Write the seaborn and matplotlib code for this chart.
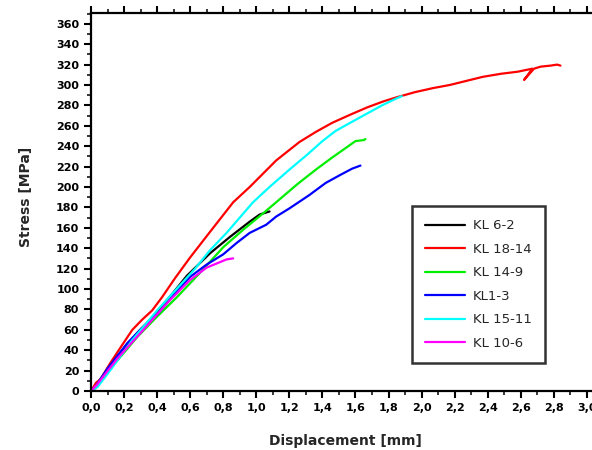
import matplotlib
matplotlib.use("Agg")
import matplotlib.pyplot as plt
from matplotlib.ticker import MultipleLocator, FuncFormatter
import seaborn as sns
import pandas as pd

# Stress–displacement curves of six specimens
kl6_2_x = [0.0, 0.03, 0.10, 0.19, 0.28, 0.375, 0.48, 0.58, 0.72, 0.84, 0.96, 1.02, 1.08]
kl6_2_y = [0, 5, 22, 40, 57, 73, 93, 113, 135, 151, 166, 173, 176]

kl18_14_x = [0.0, 0.03, 0.06, 0.115, 0.18, 0.25, 0.31, 0.37, 0.43, 0.51, 0.60, 0.72, 0.86, 0.96,
             1.12, 1.26, 1.36, 1.46, 1.57, 1.67, 1.77, 1.85, 1.96, 2.07, 2.17, 2.27, 2.37, 2.48,
             2.58, 2.67, 2.62, 2.68, 2.72, 2.78, 2.82, 2.84]
kl18_14_y = [0, 8, 12, 27, 43, 60, 70, 79, 92, 111, 131, 156, 185, 200,
             226, 244, 254, 263, 271, 278, 284, 288, 293, 297, 300, 304, 308, 311,
             313, 316, 305, 316, 318, 319, 320, 319]

kl14_9_x = [0.0, 0.03, 0.055, 0.16, 0.28, 0.40, 0.52, 0.66, 0.80, 0.92, 1.04, 1.12, 1.25,
            1.36, 1.46, 1.53, 1.60, 1.65, 1.66]
kl14_9_y = [0, 3, 11, 30, 53, 73, 92, 116, 141, 158, 174, 185, 203,
            217, 229, 237, 245, 246, 247]

kl1_3_x = [0.0, 0.03, 0.10, 0.22, 0.31, 0.40, 0.50, 0.60, 0.70, 0.80, 0.88, 0.96, 1.06,
           1.12, 1.20, 1.32, 1.42, 1.51, 1.58, 1.63]
kl1_3_y = [0, 5, 22, 47, 62, 75, 94, 112, 124, 134, 145, 155, 163,
           171, 179, 192, 204, 212, 218, 221]

kl15_11_x = [0.0, 0.04, 0.115, 0.25, 0.40, 0.54, 0.63, 0.72, 0.82, 0.90, 0.98, 1.08, 1.20,
             1.31, 1.40, 1.48, 1.58, 1.67, 1.76, 1.85, 1.88]
kl15_11_y = [0, 4, 20, 50, 79, 104, 120, 138, 155, 170, 185, 200, 217,
             232, 245, 255, 264, 272, 280, 287, 289]

kl10_6_x = [0.0, 0.035, 0.16, 0.30, 0.46, 0.60, 0.70, 0.76, 0.82, 0.86]
kl10_6_y = [0, 6, 32, 57, 86, 109, 121, 125, 129, 130]

series_names = ["KL 6-2", "KL 18-14", "KL 14-9", "KL1-3", "KL 15-11", "KL 10-6"]
series_x = [kl6_2_x, kl18_14_x, kl14_9_x, kl1_3_x, kl15_11_x, kl10_6_x]
series_y = [kl6_2_y, kl18_14_y, kl14_9_y, kl1_3_y, kl15_11_y, kl10_6_y]
series_colors = ["#000000", "#ff0000", "#00ee00", "#0000ff", "#00ffff", "#ff00ff"]

frames = []
for name, xs, ys in zip(series_names, series_x, series_y):
    frames.append(pd.DataFrame({"disp": xs, "stress": ys, "specimen": name}))
data = pd.concat(frames, ignore_index=True)

sns.set_style("white")
plt.rcParams["font.family"] = ["DejaVu Sans"]

fig = plt.figure(figsize=(5.92, 4.5), dpi=100)
ax = fig.add_axes([91 / 592, 1 - 391 / 450, (600 - 91) / 592, (391 - 13) / 450])

sns.lineplot(data=data, x="disp", y="stress", hue="specimen", hue_order=series_names,
             palette=dict(zip(series_names, series_colors)), sort=False,
             estimator=None, units="specimen", linewidth=1.6, ax=ax)

px_per_unit = 165.3
ax.set_xlim(0, (600 - 91) / px_per_unit)
ax.set_ylim(0, (391 - 13) / 1.02)

ax.xaxis.set_major_locator(MultipleLocator(0.2))
ax.xaxis.set_minor_locator(MultipleLocator(0.1))
ax.yaxis.set_major_locator(MultipleLocator(20))
ax.yaxis.set_minor_locator(MultipleLocator(10))
ax.xaxis.set_major_formatter(FuncFormatter(lambda v, p: f"{v:.1f}".replace(".", ",")))
ax.yaxis.set_major_formatter(FuncFormatter(lambda v, p: f"{v:.0f}"))

for s in ["left", "bottom", "top"]:
    ax.spines[s].set_linewidth(1.6)
    ax.spines[s].set_color("black")
ax.spines["right"].set_visible(False)

ax.tick_params(axis="both", which="major", direction="out", length=5, width=1.5,
               labelsize=8, top=True, bottom=True, left=True, colors="black")
ax.tick_params(axis="both", which="minor", direction="out", length=3, width=1.3,
               top=True, bottom=True, left=True)
for lab in ax.get_xticklabels() + ax.get_yticklabels():
    lab.set_fontweight("bold")

ax.set_xlabel("Displacement [mm]", fontsize=10, fontweight="bold")
ax.set_ylabel("Stress [MPa]", fontsize=10, fontweight="bold")
ax.xaxis.set_label_coords((345 - 91) / 509, -0.115)
ax.yaxis.set_label_coords(-(91 - 33) / 509, (391 - 197) / 378)

leg = ax.legend(loc="upper left", bbox_to_anchor=((412 - 91) / 509, (391 - 206) / 378),
                frameon=True, fancybox=False, fontsize=9.5, handlelength=3.0,
                labelspacing=0.8, borderpad=1.0, handletextpad=0.6, borderaxespad=0)
leg.get_frame().set_edgecolor("black")
leg.get_frame().set_linewidth(1.8)
for line in leg.get_lines():
    line.set_linewidth(1.6)

fig.savefig("out.png", dpi=100)
